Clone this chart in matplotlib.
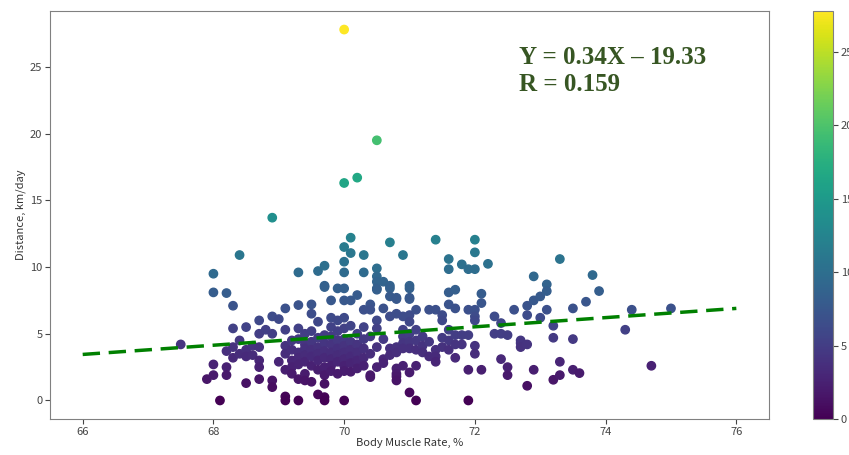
import matplotlib
matplotlib.use('Agg')
import matplotlib.pyplot as plt
import numpy as np

plt.rcParams['font.family'] = ['Noto Sans CJK KR', 'DejaVu Sans']

# body muscle rate (%) -> distances (km/day), one list per x column
bmr_cols = [67.5, 67.9, 68.0, 68.1, 68.2, 68.3, 68.4, 68.5, 68.6, 68.7, 68.8, 68.9,
            69.0, 69.1, 69.2, 69.3, 69.4, 69.5, 69.6, 69.7, 69.8, 69.9,
            70.0, 70.1, 70.2, 70.3, 70.4, 70.5, 70.6, 70.7, 70.8, 70.9,
            71.0, 71.1, 71.2, 71.3, 71.4, 71.5, 71.6, 71.7, 71.8, 71.9,
            72.0, 72.1, 72.2, 72.3, 72.4, 72.5, 72.6, 72.7, 72.8, 72.9,
            73.0, 73.1, 73.2, 73.3, 73.5, 73.6, 73.7, 73.8, 73.9,
            74.3, 74.4, 74.7, 75.0]
dist_cols = [
    [4.2],
    [1.6],
    [9.5, 8.1, 2.7, 1.9],
    [0.0],
    [8.05, 3.7, 2.5, 1.9],
    [7.1, 5.4, 4.0, 3.2],
    [10.9, 4.5, 3.5],
    [5.5, 3.8, 3.3, 1.3],
    [4.1, 3.4],
    [6.0, 5.0, 4.0, 3.0, 2.5, 1.6],
    [5.3],
    [13.7, 6.3, 5.0, 1.5, 1.0],
    [6.1, 2.9],
    [6.9, 5.3, 4.1, 3.5, 2.3, 0.3, 0.0],
    [4.5, 3.8, 3.0, 2.5, 2.0],
    [9.6, 7.15, 5.4, 4.6, 3.6, 3.2, 2.7, 1.6, 0.0],
    [5.0, 4.2, 3.9, 3.4, 2.9, 2.0, 1.5],
    [7.2, 6.5, 5.2, 4.4, 3.8, 3.3, 2.6, 1.4],
    [9.7, 5.9, 4.7, 4.0, 3.5, 3.0, 2.3, 0.45],
    [10.1, 8.6, 8.5, 4.9, 4.3, 3.7, 3.2, 2.5, 1.9, 1.25, 0.25, 0.0],
    [7.5, 6.2, 5.5, 4.8, 4.2, 3.6, 3.1, 2.6, 2.2],
    [8.4, 6.0, 5.2, 4.5, 3.9, 3.4, 2.9, 2.0],
    [27.8, 16.3, 11.5, 10.4, 9.6, 8.4, 7.5, 6.2, 5.4, 4.6, 4.1, 3.6, 3.1, 2.6, 2.2, 0.0],
    [12.2, 11.05, 7.5, 5.6, 4.4, 3.8, 3.3, 2.8, 2.15],
    [16.7, 7.9, 5.0, 4.2, 3.6, 3.0, 2.4],
    [10.9, 9.6, 6.8, 5.5, 4.6, 3.9, 3.2, 2.6],
    [7.2, 6.8, 4.8, 3.5, 1.9, 1.75],
    [19.5, 9.9, 9.3, 8.9, 8.4, 8.3, 6.0, 5.4, 4.0, 2.5],
    [8.9, 6.9, 4.6, 3.1, 2.8],
    [11.85, 8.6, 8.4, 7.8, 6.3, 3.9, 3.4],
    [7.7, 7.6, 6.5, 4.0, 3.6, 2.4, 2.0, 1.8, 1.5],
    [10.9, 6.3, 5.3, 4.8, 4.3, 3.9, 2.6],
    [8.6, 8.4, 7.7, 7.6, 6.4, 5.9, 5.0, 4.4, 3.9, 2.1, 0.6],
    [6.8, 5.3, 4.5, 3.8, 2.6, 0.0],
    [4.8, 4.1, 3.6],
    [6.8, 4.4, 3.3],
    [12.05, 6.8, 3.8, 3.3, 2.9],
    [6.4, 6.0, 4.7, 4.0],
    [10.6, 9.84, 8.1, 7.2, 5.3, 4.5, 3.8],
    [8.3, 6.9, 4.9, 4.2, 3.2],
    [10.2, 4.9, 4.2],
    [9.84, 6.8, 4.9, 2.3, 0.0],
    [12.05, 11.1, 9.84, 6.8, 6.3, 6.0, 4.1, 3.5],
    [8.0, 7.3, 2.3],
    [10.24],
    [6.3, 5.0],
    [5.8, 5.0, 3.1],
    [4.9, 2.5, 1.9],
    [6.8],
    [4.5, 4.3, 4.0],
    [7.1, 6.4, 4.2, 1.1],
    [9.3, 7.5, 2.3],
    [7.8, 6.2],
    [8.7, 8.2, 6.8],
    [5.6, 4.7, 1.55],
    [10.6, 2.9, 1.9],
    [6.9, 4.6, 2.3],
    [2.05],
    [7.4],
    [9.4],
    [8.2],
    [5.3],
    [6.8],
    [2.6],
    [6.9],
]

fit_x = [66, 76]
fit_y = [3.45, 6.9]
eq_text = 'Y = 0.34X \u2013 19.33\nR = 0.159'

x = []
y = []
for bx, ds in zip(bmr_cols, dist_cols):
    for d in ds:
        x.append(bx)
        y.append(d)
x = np.array(x)
y = np.array(y)

fig = plt.figure(figsize=(8.49, 4.55), dpi=100)
ax = fig.add_axes([0.0589, 0.0791, 0.8469, 0.8967])
cax = fig.add_axes([0.9576, 0.0791, 0.0236, 0.8967])

sc = ax.scatter(x, y, c=y, cmap='viridis', s=36, zorder=2)
ax.plot(fit_x, fit_y, color='green', linestyle='--', linewidth=2.5, dashes=(5, 2.5), zorder=3)

ax.text(0.652, 0.915, eq_text, transform=ax.transAxes, ha='left', va='top',
        fontsize=18, fontweight='bold', color='#375623', family='Liberation Serif',
        linespacing=1.25)

ax.set_xticks([66, 68, 70, 72, 74, 76])
ax.set_yticks([0, 5, 10, 15, 20, 25])
ax.set_xlabel('Body Muscle Rate, %', fontsize=8, color='#333333', labelpad=1)
ax.set_ylabel('Distance, km/day', fontsize=8, color='#333333', labelpad=3)
ax.tick_params(labelsize=8, colors='#444444', pad=2)
for sp in ax.spines.values():
    sp.set_color('#808080')

cb = fig.colorbar(sc, cax=cax)
cb.set_ticks([0, 5, 10, 15, 20, 25])
cb.ax.tick_params(labelsize=8, colors='#444444', pad=2)
cb.outline.set_edgecolor('#808080')

fig.savefig('out.png', dpi=100)
